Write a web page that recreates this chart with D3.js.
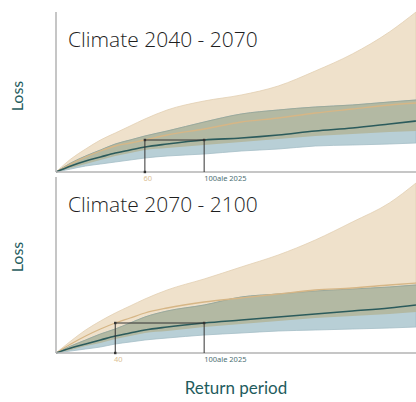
<!DOCTYPE html>
<html><head><meta charset="utf-8">
<script src="https://cdn.jsdelivr.net/npm/d3@7"></script>
<style>html,body{margin:0;padding:0;background:#fff;}svg{display:block;}</style>
</head><body>
<svg id="chart" width="416" height="402"></svg>
<script>
// ---- data ----
const returnPeriods = [0,10,20,30,40,50,60,75,100,125,150,175,200,225,243];
const titles = ["Climate 2040 - 2070", "Climate 2070 - 2100"];
const markerFuture = [60, 40];
const markerCurrent = 100;
const markerCurrentLabel = "100ale 2025";
// panel 1 (2040-2070)
const p1FutureHigh = [0,13,23,32,39,46,53,62,71,77,86,101,118,140,160];
const p1FutureLow  = [0,4,8,12,16,19,22,24,27,30,33,36,38,40,41];
const p1FutureMed  = [0,8,15,21,26,29,32,37,43,50,54,59,63,67,69];
const p1CurrentHigh= [0,9,16,22,28,32,36,41,50,58,62,65,67,70,72];
const p1CurrentLow = [0,3,6,8,10,12,14,16,18,21,23,26,27,28,29];
const p1CurrentMed = [0,6,11,15,19,22,25,28,32,34,37,41,44,48,51];
// panel 2 (2070-2100)
const p2FutureHigh = [0,12,23,32,40,47,54,63,74,86,98,113,131,150,170];
const p2FutureLow  = [0,3,7,10,14,17,20,22,26,29,32,35,37,39,41];
const p2FutureMed  = [0,9,17,24,30,35,40,45,51,55,59,63,65,68,70];
const p2CurrentHigh= [0,7,13,19,24,30,36,42,48,56,59,62,64,66,68];
const p2CurrentLow = [0,2,4,6,9,11,13,15,18,20,22,23,24,25,26];
const p2CurrentMed = [0,5,9,13,17,20,23,26,30,33,36,39,42,45,48];

const panelsData = [
  {fh:p1FutureHigh, fl:p1FutureLow, fm:p1FutureMed, ch:p1CurrentHigh, cl:p1CurrentLow, cm:p1CurrentMed},
  {fh:p2FutureHigh, fl:p2FutureLow, fm:p2FutureMed, ch:p2CurrentHigh, cl:p2CurrentLow, cm:p2CurrentMed}
];
const layout = [{top:12, bottom:172, max:160},{top:177, bottom:353, max:176}];

const svg = d3.select("#chart");
const x = d3.scaleLinear().domain([0,243]).range([56,416]);
const teal = "#1f5c5e";

panelsData.forEach((d,i)=>{
  const L = layout[i];
  const y = d3.scaleLinear().domain([0,L.max]).range([L.bottom,L.top]);
  const g = svg.append("g");
  const idx = d3.range(returnPeriods.length);
  const band = (lo,hi)=> d3.area().curve(d3.curveMonotoneX)
      .x(k=>x(returnPeriods[k])).y0(k=>y(lo[k])).y1(k=>y(hi[k]));
  const line = (v)=> d3.line().curve(d3.curveMonotoneX)
      .x(k=>x(returnPeriods[k])).y(k=>y(v[k]));
  const ovTop = idx.map(k=>Math.min(d.fh[k], d.ch[k]));
  const ovLow = idx.map(k=>Math.max(d.fl[k], d.cl[k]));
  g.append("path").attr("d", band(d.fl,d.fh)(idx)).attr("fill","#efe1cb").attr("stroke","#e2cfb2").attr("stroke-width",0.8);
  g.append("path").attr("d", band(d.cl,d.ch)(idx)).attr("fill","#b8cfd6").attr("stroke","#a5bec6").attr("stroke-width",0.8);
  g.append("path").attr("d", band(ovLow,ovTop)(idx)).attr("fill","#b3b9a3");
  g.append("path").attr("d", line(ovTop)(idx)).attr("fill","none").attr("stroke","#97a393").attr("stroke-width",0.8);
  g.append("path").attr("d", line(d.fm)(idx)).attr("fill","none").attr("stroke","#d6b686").attr("stroke-width",1.3);
  g.append("path").attr("d", line(d.cm)(idx)).attr("fill","none").attr("stroke","#2b5b5c").attr("stroke-width",1.6);

  // axes
  g.append("line").attr("x1",56).attr("x2",416).attr("y1",L.bottom).attr("y2",L.bottom).attr("stroke","#b3b3b3").attr("stroke-width",1.5);
  g.append("line").attr("x1",56).attr("x2",56).attr("y1",L.top).attr("y2",L.bottom).attr("stroke","#b3b3b3").attr("stroke-width",1.5);

  // marker lines
  const cIdx = returnPeriods.indexOf(markerCurrent);
  const level = y(d.cm[cIdx]);
  const xf = x(markerFuture[i]), xc = x(markerCurrent);
  g.append("path").attr("d",`M${xf},${L.bottom}V${level}H${xc}V${L.bottom}`)
    .attr("fill","none").attr("stroke","#333").attr("stroke-width",1);
  [[xf,L.bottom],[xf,level],[xc,level]].forEach(p=>{
    g.append("rect").attr("x",p[0]-1.2).attr("y",p[1]-1.2).attr("width",2.4).attr("height",2.4).attr("fill","#333");
  });
  g.append("text").attr("x",xf+3).attr("y",L.bottom+9).attr("text-anchor","middle")
    .attr("font-family","Noto Sans").attr("font-size",7.5).attr("fill","#dcbf94").text(markerFuture[i]);
  g.append("text").attr("x",xc).attr("y",L.bottom+9)
    .attr("font-family","Noto Sans").attr("font-size",7.5).attr("fill","#4d6f73").text(markerCurrentLabel);

  // title
  g.append("text").attr("x",68).attr("y",L.top+35).attr("font-family","Open Sans").attr("font-weight",300)
    .attr("font-size",21).attr("fill","#1e1e1e").text(titles[i]);

  // y label
  const cy = i===0 ? 96 : 257;
  g.append("text").attr("transform",`translate(23,${cy}) rotate(-90)`).attr("text-anchor","middle")
    .attr("font-family","Lato").attr("font-size",16).attr("fill",teal).text("Loss");
});

svg.append("text").attr("x",236).attr("y",394).attr("text-anchor","middle")
  .attr("font-family","Lato").attr("font-size",17).attr("fill",teal).text("Return period");
</script>
</body></html>
